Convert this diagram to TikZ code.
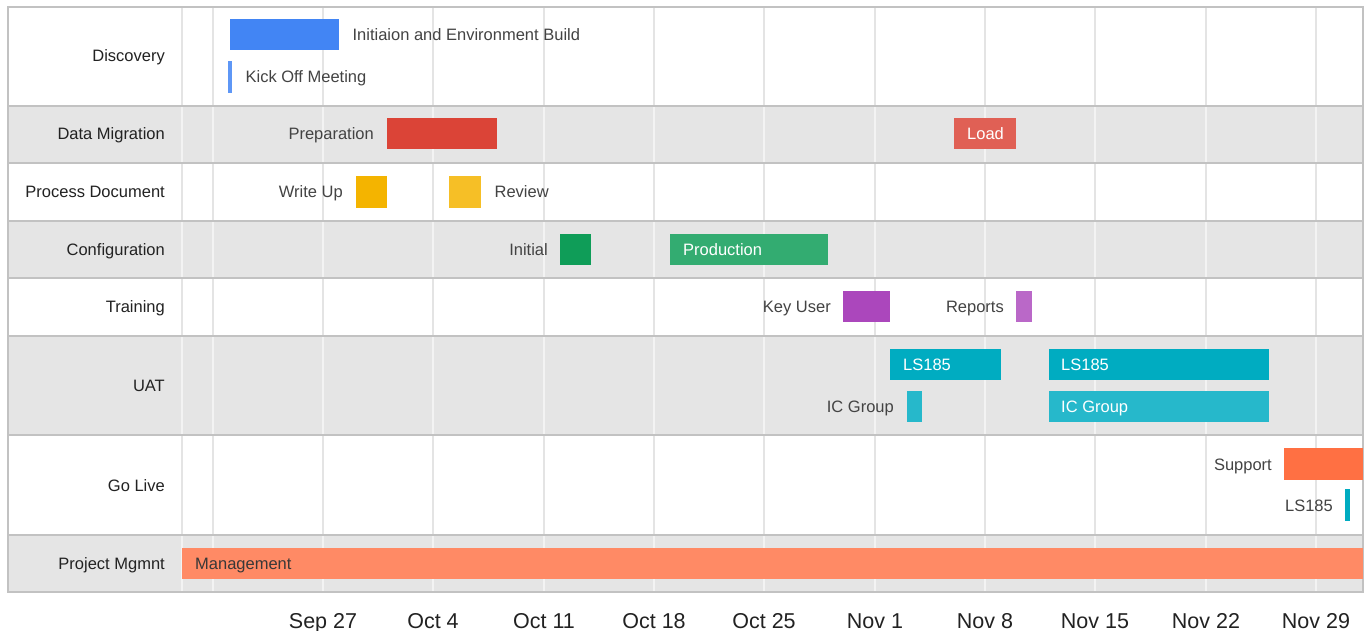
\documentclass[tikz,border=0pt]{standalone}
\usepackage{fontspec}
\setmainfont{Liberation Sans}
\usetikzlibrary{positioning}

% palette of the timeline
\definecolor{rowgrey}{HTML}{E5E5E5}
\definecolor{sepgrey}{HTML}{C2C2C2}
\definecolor{gridw}{HTML}{E4E4E4}
\definecolor{gridg}{HTML}{F3F3F3}
\definecolor{txt}{HTML}{222222}
\definecolor{cBlueA}{HTML}{4285F4}
\definecolor{cBlueB}{HTML}{5E97F6}
\definecolor{cRedA}{HTML}{DB4437}
\definecolor{cRedB}{HTML}{E06055}
\definecolor{cYelA}{HTML}{F4B400}
\definecolor{cYelB}{HTML}{F6BF26}
\definecolor{cGrnA}{HTML}{0F9D58}
\definecolor{cGrnB}{HTML}{33AC71}
\definecolor{cPurA}{HTML}{AB47BC}
\definecolor{cPurB}{HTML}{BA68C8}
\definecolor{cCyaA}{HTML}{00ACC1}
\definecolor{cCyaB}{HTML}{26B8CB}
\definecolor{cOrgA}{HTML}{FF7043}
\definecolor{cOrgB}{HTML}{FF8A65}

\tikzset{
  txtbox/.style={font=\fontsize{16.5bp}{19bp}\selectfont, inner sep=0pt,
                 text height=12bp, text depth=0bp},
  bar/.style={rectangle, draw=none, inner sep=0pt, anchor=west, minimum height=31bp},
  rowlbl/.style={txtbox, text=txt, anchor=east},
  lbl/.style={txtbox, text=txt!85!white},
  inlbl/.style={txtbox, text=white},
  darklbl/.style={txtbox, text=txt!90!white},
  axlbl/.style={font=\fontsize{21.5bp}{24bp}\selectfont, text=txt, inner sep=0pt, anchor=base},
}

\begin{document}
\begin{tikzpicture}[x=1bp, y=-1bp]
\useasboundingbox (0,0) rectangle (1365,631);
\fill[white] (0,0) rectangle (1365,631);

% shaded rows
\foreach \ya/\yb in {106/163, 221/278, 336/435, 535/592}
  \fill[rowgrey] (8,\ya) rectangle (1363,\yb);

% week grid, lighter on shaded rows
\foreach \gx in {182,213,323,433,544,654,764,875,985,1095,1206,1316}{
  \foreach \ya/\yb in {7/106, 163/221, 278/336, 435/535}
    \draw[gridw, line width=1.4bp] (\gx,\ya) -- (\gx,\yb);
  \foreach \ya/\yb in {106/163, 221/278, 336/435, 535/592}
    \draw[gridg, line width=1.4bp] (\gx,\ya) -- (\gx,\yb);
}

% row separators and frame
\foreach \sy in {106,163,221,278,336,435,535}
  \draw[sepgrey, line width=1.6bp] (8,\sy) -- (1363,\sy);
\draw[sepgrey, line width=1.6bp] (8,7) rectangle (1363,592);

% row titles
\node[rowlbl] (rDisc) at (165,56)  {Discovery};
\node[rowlbl] (rData) at (165,134) {Data Migration};
\node[rowlbl] (rProc) at (165,192) {Process Document};
\node[rowlbl] (rConf) at (165,249) {Configuration};
\node[rowlbl] (rTrain) at (165,306) {Training};
\node[rowlbl] (rUat) at (165,385)  {UAT};
\node[rowlbl] (rLive) at (165,485) {Go Live};
\node[rowlbl] (rPm) at (165,563)   {Project Mgmnt};

% Discovery
\node[bar, fill=cBlueA, minimum width=109bp] (init) at (230,35) {};
\node[lbl, right=13bp of init.east, anchor=west] (initL) {Initiaion and Environment Build};
\node[bar, fill=cBlueB, minimum width=4bp, minimum height=32bp] (kick) at (228,77) {};
\node[lbl, right=13bp of kick.east, anchor=west] (kickL) {Kick Off Meeting};

% Data Migration
\node[bar, fill=cRedA, minimum width=110bp] (prep) at (387,134) {};
\node[lbl, left=13bp of prep.west, anchor=east] (prepL) {Preparation};
\node[bar, fill=cRedB, minimum width=62bp] (load) at (954,134) {};
\node[inlbl, right=13bp of load.west, anchor=west] (loadL) {Load};

% Process Document
\node[bar, fill=cYelA, minimum width=31bp] (write) at (356,192) {};
\node[lbl, left=13bp of write.west, anchor=east] (writeL) {Write Up};
\node[bar, fill=cYelB, minimum width=32bp] (review) at (449,192) {};
\node[lbl, right=13bp of review.east, anchor=west] (reviewL) {Review};

% Configuration
\node[bar, fill=cGrnA, minimum width=31bp] (initial) at (560,249) {};
\node[lbl, left=12bp of initial.west, anchor=east] (initialL) {Initial};
\node[bar, fill=cGrnB, minimum width=158bp] (prod) at (670,249) {};
\node[inlbl, right=13bp of prod.west, anchor=west] (prodL) {Production};

% Training
\node[bar, fill=cPurA, minimum width=47bp] (key) at (843,306) {};
\node[lbl, left=12bp of key.west, anchor=east] (keyL) {Key User};
\node[bar, fill=cPurB, minimum width=16bp] (rep) at (1016,306) {};
\node[lbl, left=12bp of rep.west, anchor=east] (repL) {Reports};

% UAT
\node[bar, fill=cCyaA, minimum width=111bp] (lsA) at (890,364) {};
\node[inlbl, right=13bp of lsA.west, anchor=west] (lsAL) {LS185};
\node[bar, fill=cCyaA, minimum width=220bp] (lsB) at (1049,364) {};
\node[inlbl, right=12bp of lsB.west, anchor=west] (lsBL) {LS185};
\node[bar, fill=cCyaB, minimum width=15bp] (icA) at (907,406) {};
\node[lbl, left=13bp of icA.west, anchor=east] (icAL) {IC Group};
\node[bar, fill=cCyaB, minimum width=220bp] (icB) at (1049,406) {};
\node[inlbl, right=12bp of icB.west, anchor=west] (icBL) {IC Group};

% Go Live
\node[bar, fill=cOrgA, minimum width=79bp, minimum height=32bp] (sup) at (1284,464) {};
\node[lbl, left=12bp of sup.west, anchor=east] (supL) {Support};
\node[bar, fill=cCyaA, minimum width=5bp, minimum height=32bp] (lsC) at (1345,505) {};
\node[lbl, left=12bp of lsC.west, anchor=east] (lsCL) {LS185};

% Project Mgmnt
\node[bar, fill=cOrgB, minimum width=1181bp] (mgmt) at (182,563) {};
\node[darklbl, right=13bp of mgmt.west, anchor=west] (mgmtL) {Management};

% week labels
\foreach \gx/\t in {323/Sep 27, 433/Oct 4, 544/Oct 11, 654/Oct 18, 764/Oct 25,
                    875/Nov 1, 985/Nov 8, 1095/Nov 15, 1206/Nov 22, 1316/Nov 29}
  \node[axlbl] at (\gx,628) {\t};
\end{tikzpicture}
\end{document}
